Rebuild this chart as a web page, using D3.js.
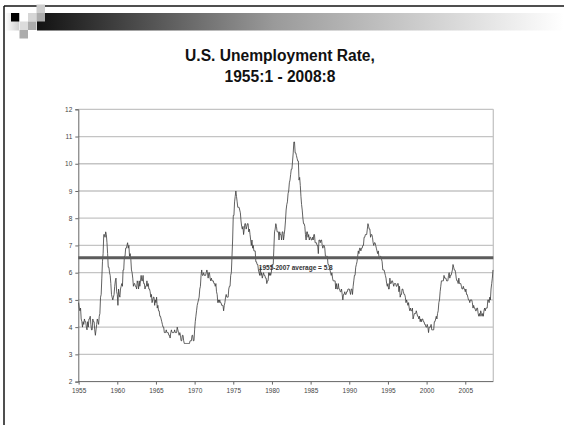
<!DOCTYPE html>
<html><head><meta charset="utf-8">
<script src="https://cdn.jsdelivr.net/npm/d3@7"></script>
<style>html,body{margin:0;padding:0;background:#fff;}svg{display:block;}</style>
</head><body>
<svg id="c" width="564" height="425"></svg>
<script>
// ---- data ----
const titleLines = ["U.S. Unemployment Rate,", "1955:1 - 2008:8"];
const startYear = 1955;
// monthly unemployment rate (%), 1955:1 .. 2008:8
const rates = [
4.9,4.7,4.6,4.7,4.3,4.2,4.0,4.2,4.1,4.3,4.2,4.2,
4.0,3.9,4.2,4.0,4.3,4.3,4.4,4.1,3.9,3.9,4.3,4.2,
4.2,3.9,3.7,3.9,4.1,4.3,4.2,4.1,4.4,4.5,5.1,5.2,
5.8,6.4,6.7,7.4,7.4,7.3,7.5,7.4,7.1,6.7,6.2,6.2,
6.0,5.9,5.6,5.2,5.1,5.0,5.1,5.2,5.5,5.7,5.8,5.3,
5.2,4.8,5.4,5.2,5.1,5.4,5.5,5.6,5.5,6.1,6.1,6.6,
6.6,6.9,6.9,7.0,7.1,6.9,7.0,6.6,6.7,6.5,6.1,6.0,
5.8,5.5,5.6,5.6,5.5,5.5,5.4,5.7,5.6,5.4,5.7,5.5,
5.7,5.9,5.7,5.7,5.9,5.6,5.6,5.4,5.5,5.5,5.7,5.5,
5.6,5.4,5.4,5.3,5.1,5.2,4.9,5.0,5.1,5.1,4.8,5.0,
4.9,5.1,4.7,4.8,4.6,4.6,4.4,4.4,4.3,4.2,4.1,4.0,
4.0,3.8,3.8,3.8,3.9,3.8,3.8,3.8,3.7,3.7,3.6,3.8,
3.9,3.8,3.8,3.8,3.8,3.9,3.8,3.8,3.8,4.0,3.9,3.8,
3.7,3.8,3.7,3.5,3.5,3.7,3.7,3.5,3.4,3.4,3.4,3.4,
3.4,3.4,3.4,3.4,3.4,3.5,3.5,3.5,3.7,3.7,3.5,3.5,
3.9,4.2,4.4,4.6,4.8,4.9,5.0,5.1,5.4,5.5,5.9,6.1,
5.9,5.9,6.0,5.9,5.9,5.9,6.0,6.1,6.0,5.8,6.0,6.0,
5.8,5.7,5.8,5.7,5.7,5.7,5.6,5.6,5.5,5.6,5.3,5.2,
4.9,5.0,4.9,5.0,4.9,4.9,4.8,4.8,4.8,4.6,4.8,4.9,
5.1,5.2,5.1,5.1,5.1,5.4,5.5,5.5,5.9,6.0,6.6,7.2,
8.1,8.1,8.6,8.8,9.0,8.8,8.6,8.4,8.4,8.4,8.3,8.2,
7.9,7.7,7.6,7.7,7.4,7.6,7.8,7.8,7.6,7.7,7.8,7.8,
7.5,7.6,7.4,7.2,7.0,7.2,6.9,7.0,6.8,6.8,6.8,6.4,
6.4,6.3,6.3,6.1,6.0,5.9,6.2,5.9,6.0,5.8,5.9,6.0,
5.9,5.9,5.8,5.8,5.6,5.7,5.7,6.0,5.9,6.0,5.9,6.0,
6.3,6.3,6.3,6.9,7.5,7.6,7.8,7.7,7.5,7.5,7.5,7.2,
7.5,7.4,7.4,7.2,7.5,7.5,7.2,7.4,7.6,7.9,8.3,8.5,
8.6,8.9,9.0,9.3,9.4,9.6,9.8,9.8,10.1,10.4,10.8,10.8,
10.4,10.4,10.3,10.2,10.1,10.1,9.4,9.5,9.2,8.8,8.5,8.3,
8.0,7.8,7.8,7.7,7.4,7.2,7.5,7.5,7.3,7.4,7.2,7.3,
7.3,7.2,7.2,7.3,7.2,7.4,7.4,7.1,7.1,7.1,7.0,7.0,
6.7,7.2,7.2,7.1,7.2,7.2,7.0,6.9,7.0,7.0,6.9,6.6,
6.6,6.6,6.6,6.3,6.3,6.2,6.1,6.0,5.9,6.0,5.8,5.7,
5.7,5.7,5.7,5.4,5.6,5.4,5.4,5.6,5.4,5.4,5.3,5.3,
5.4,5.2,5.0,5.2,5.2,5.3,5.2,5.2,5.3,5.3,5.4,5.4,
5.4,5.3,5.2,5.4,5.4,5.2,5.5,5.7,5.9,5.9,6.2,6.3,
6.4,6.6,6.8,6.7,6.9,6.9,6.8,6.9,6.9,7.0,7.0,7.3,
7.3,7.4,7.4,7.4,7.6,7.8,7.7,7.6,7.6,7.3,7.4,7.4,
7.3,7.1,7.0,7.1,7.1,7.0,6.9,6.8,6.7,6.8,6.6,6.5,
6.6,6.6,6.5,6.4,6.1,6.1,6.1,6.0,5.9,5.8,5.6,5.5,
5.6,5.4,5.4,5.8,5.6,5.6,5.7,5.7,5.6,5.5,5.6,5.6,
5.6,5.5,5.5,5.6,5.6,5.3,5.5,5.1,5.2,5.2,5.4,5.4,
5.3,5.2,5.2,5.1,4.9,5.0,4.9,4.8,4.9,4.7,4.6,4.7,
4.6,4.6,4.7,4.3,4.4,4.5,4.5,4.5,4.6,4.5,4.4,4.4,
4.3,4.4,4.2,4.3,4.2,4.3,4.3,4.2,4.2,4.1,4.1,4.0,
4.0,4.1,4.0,3.8,4.0,4.0,4.0,4.1,3.9,3.9,3.9,3.9,
4.2,4.2,4.3,4.4,4.3,4.5,4.6,4.9,5.0,5.3,5.5,5.7,
5.7,5.7,5.7,5.9,5.8,5.8,5.8,5.7,5.7,5.7,5.9,6.0,
5.8,5.9,5.9,6.0,6.1,6.3,6.2,6.1,6.1,6.0,5.8,5.7,
5.7,5.6,5.8,5.6,5.6,5.6,5.5,5.4,5.4,5.5,5.4,5.4,
5.3,5.4,5.2,5.2,5.1,5.0,5.0,4.9,5.0,5.0,5.0,4.9,
4.7,4.8,4.7,4.7,4.6,4.6,4.7,4.7,4.5,4.4,4.5,4.4,
4.6,4.5,4.4,4.5,4.4,4.6,4.7,4.6,4.7,4.7,4.7,5.0,
5.0,4.9,5.1,5.0,5.4,5.6,5.8,6.1
];
const yearTicks = [1955,1960,1965,1970,1975,1980,1985,1990,1995,2000,2005];
const yTicks = [2,3,4,5,6,7,8,9,10,11,12];
const avgLabel = "1955-2007 average = 5.8";
const avgLineLevel = 6.55;   // where the reference draws the average bar
const avgLabelAt = [1978.3, 6.15];

// ---- layout ----
const svg = d3.select("#c");
const L = 78.3, R = 493.3, T = 109.3, B = 381.6;
const n = rates.length;
const x = d3.scaleLinear().domain([0, n]).range([L, R]);
const y = d3.scaleLinear().domain([2, 12]).range([B, T]);
const xm = i => x(i + 0.5);
const xYear = yr => xm((yr - startYear) * 12);

// ---- slide decoration ----
const defs = svg.append("defs");
const g1 = defs.append("linearGradient").attr("id","bar").attr("x1","0").attr("x2","1");
g1.append("stop").attr("offset","0").attr("stop-color","#121212");
g1.append("stop").attr("offset","0.45").attr("stop-color","#9a9a9a");
g1.append("stop").attr("offset","1").attr("stop-color","#ffffff");
const g2 = defs.append("linearGradient").attr("id","lg").attr("x1","0").attr("x2","1");
g2.append("stop").attr("offset","0").attr("stop-color","#ffffff");
g2.append("stop").attr("offset","1").attr("stop-color","#cfcfcf");

svg.append("rect").attr("x",37).attr("y",13).attr("width",527).attr("height",17.5).attr("fill","url(#bar)");
svg.append("rect").attr("x",5).attr("y",13).attr("width",14).attr("height",17.5).attr("fill","url(#lg)");
const sq = [[11,13,"#000000"],[19.5,13,"#ffffff"],[28,13,"#d6d6d6"],[36.5,4.5,"#cdcdcd"],[36.5,13,"#acacac"],
            [19.5,21.5,"#dcdcdc"],[28,21.5,"#acacac"],[19.5,30,"#acacac"]];
svg.append("line").attr("x1",4).attr("x2",564).attr("y1",6).attr("y2",6).attr("stroke","#151515").attr("stroke-width",1.5);
svg.selectAll("rect.sq").data(sq).join("rect").attr("class","sq")
  .attr("x",d=>d[0]).attr("y",d=>d[1]).attr("width",8.5).attr("height",8.5).attr("fill",d=>d[2]);
svg.append("line").attr("x1",4).attr("x2",4).attr("y1",6).attr("y2",425).attr("stroke","#151515").attr("stroke-width",1.5);

// ---- title ----
const font = "Liberation Sans, Arial, sans-serif";
svg.append("text").attr("x",280).attr("y",61).attr("text-anchor","middle")
  .attr("font-family",font).attr("font-weight","bold").attr("font-size",15.6)
  .attr("fill","#111").text(titleLines[0]);
svg.append("text").attr("x",280).attr("y",82).attr("text-anchor","middle")
  .attr("font-family",font).attr("font-weight","bold").attr("font-size",15.6)
  .attr("fill","#111").text(titleLines[1]);

// ---- grid ----
svg.append("g").selectAll("line").data(yTicks.filter(v=>v>2)).join("line")
  .attr("x1",L).attr("x2",R).attr("y1",d=>y(d)).attr("y2",d=>y(d))
  .attr("stroke","#c4c4c4").attr("stroke-width",1.3);
svg.append("line").attr("x1",R).attr("x2",R).attr("y1",T).attr("y2",B).attr("stroke","#c4c4c4").attr("stroke-width",1.3);

// ---- axes ----
const ya = svg.append("g").attr("transform",`translate(${L},0)`)
  .call(d3.axisLeft(y).tickValues(yTicks).tickSize(3).tickPadding(3).tickFormat(d3.format("d")));
ya.select(".domain").attr("stroke","#666").attr("stroke-width",1);
ya.selectAll(".tick line").attr("stroke","#666");
ya.selectAll("text").attr("font-family",font).attr("font-size",6.5).attr("fill","#444");

const xa = svg.append("g").attr("transform",`translate(0,${B})`)
  .call(d3.axisBottom(x).tickValues(yearTicks.map(yr=>(yr-startYear)*12+0.5)).tickSize(3).tickPadding(4)
    .tickFormat((d,i)=>yearTicks[i]));
xa.select(".domain").attr("stroke","#666").attr("stroke-width",1).attr("d",`M${L},0H${R}`);
xa.selectAll(".tick line").attr("stroke","#666");
xa.selectAll("text").attr("font-family",font).attr("font-size",6.5).attr("fill","#444");

// ---- data line ----
const line = d3.line().x((d,i)=>xm(i)).y(d=>y(d));
svg.append("path").datum(rates).attr("d",line).attr("fill","none")
  .attr("stroke","#3a3a3a").attr("stroke-width",0.8).attr("stroke-linejoin","round");

// ---- average bar ----
svg.append("line").attr("x1",L).attr("x2",R).attr("y1",y(avgLineLevel)).attr("y2",y(avgLineLevel))
  .attr("stroke","#5c5c5c").attr("stroke-width",3);
svg.append("text").attr("x",xYear(avgLabelAt[0])).attr("y",y(avgLabelAt[1]))
  .attr("font-family",font).attr("font-weight","bold").attr("font-size",6.5).attr("fill","#333")
  .attr("dominant-baseline","middle").text(avgLabel);
</script>
</body></html>
